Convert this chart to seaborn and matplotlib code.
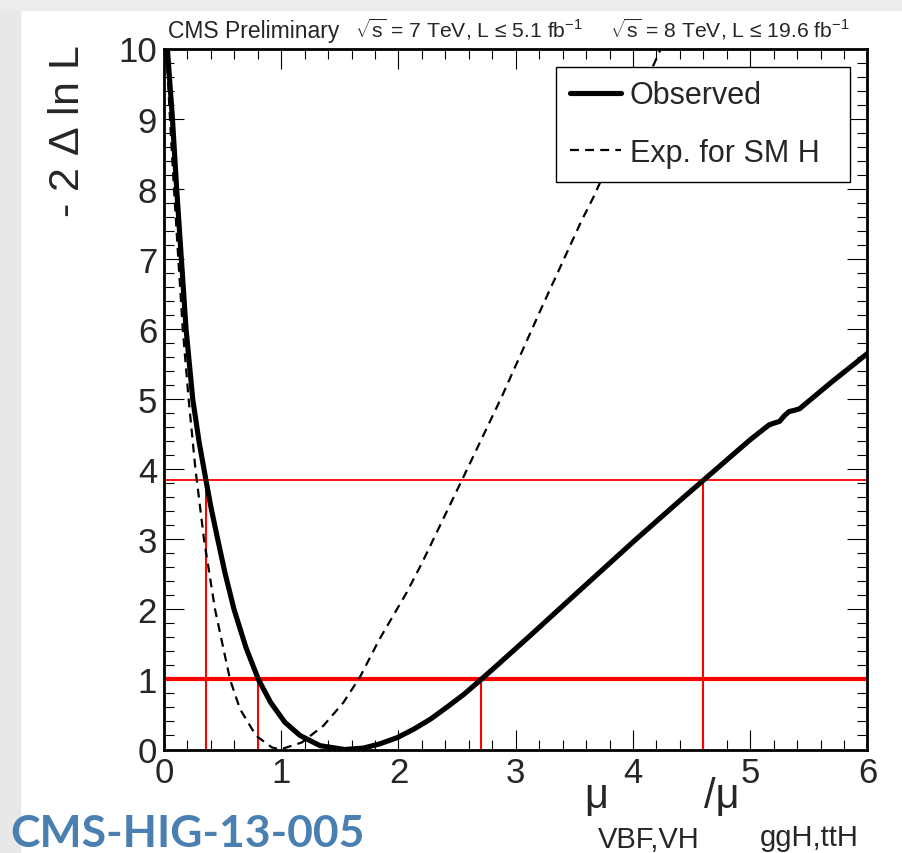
import numpy as np
import pandas as pd
import matplotlib
matplotlib.use("Agg")
import matplotlib.pyplot as plt
from matplotlib.patches import Rectangle
from matplotlib.ticker import MultipleLocator
import seaborn as sns

# likelihood scan values
obs_mu = [0.0, 0.03, 0.072, 0.108, 0.148, 0.188, 0.245, 0.30, 0.358, 0.40, 0.458,
          0.52, 0.597, 0.70, 0.805, 0.91, 1.03, 1.16, 1.33, 1.54, 1.70, 1.84,
          1.99, 2.13, 2.27, 2.41, 2.56, 2.705, 2.84, 2.98, 3.12, 3.50, 4.00,
          4.42, 4.60, 5.00, 5.16, 5.21, 5.25, 5.29, 5.33, 5.38, 5.42, 5.70, 6.00]
obs_nll = [10.65, 9.97, 9.0, 8.0, 7.0, 6.0, 5.0, 4.38, 3.84, 3.46, 3.0,
           2.52, 2.0, 1.45, 1.0, 0.67, 0.39, 0.20, 0.055, 0.0, 0.02, 0.08,
           0.17, 0.29, 0.43, 0.60, 0.79, 1.0, 1.20, 1.41, 1.62, 2.20, 2.96,
           3.58, 3.84, 4.42, 4.63, 4.66, 4.68, 4.76, 4.82, 4.84, 4.86, 5.25, 5.65]

exp_mu = [0.0, 0.02, 0.051, 0.085, 0.122, 0.16, 0.21, 0.268, 0.28, 0.341, 0.435,
          0.563, 0.648, 0.785, 0.92, 0.99, 1.175, 1.36, 1.53, 1.67, 1.84, 2.07,
          2.20, 2.54, 2.88, 3.22, 3.56, 3.66, 4.22, 4.25]
exp_nll = [10.6, 10.0, 9.0, 8.0, 7.0, 6.0, 5.0, 4.0, 3.84, 3.0, 2.0,
           1.0, 0.578, 0.197, 0.03, 0.0, 0.10, 0.34, 0.67, 1.03, 1.58, 2.24,
           2.66, 3.84, 5.03, 6.3, 7.54, 7.87, 9.93, 10.05]

# 68% / 95% CL levels and where the observed curve crosses them
cl_levels = [1.0, 3.84]
cl68_edges = [0.805, 2.705]
cl95_edges = [0.355, 4.60]

df_obs = pd.DataFrame({"mu": obs_mu, "nll": obs_nll})
df_exp = pd.DataFrame({"mu": exp_mu, "nll": exp_nll})

sns.set_theme(style="ticks")
plt.rcParams["font.family"] = ["Liberation Sans", "DejaVu Sans"]
plt.rcParams["mathtext.fontset"] = "custom"
plt.rcParams["mathtext.rm"] = "Liberation Sans"
plt.rcParams["mathtext.it"] = "Liberation Sans:italic"
plt.rcParams["mathtext.sf"] = "Liberation Sans"

fig = plt.figure(figsize=(9.03, 8.54), dpi=100)

# grey slide edges of the screenshot
fig.patches.append(Rectangle((0, 0), 20 / 903, 1, transform=fig.transFigure,
                             color="#e8e8e8", zorder=0))
fig.patches.append(Rectangle((0, 1 - 11 / 854), 1, 11 / 854, transform=fig.transFigure,
                             color="#ececec", zorder=0))

ax = fig.add_axes([164 / 903, 1 - 750.5 / 854, 703.5 / 903, 701 / 854])

# red CL lines
ax.axhline(cl_levels[0], color="red", lw=3, zorder=1)
ax.axhline(cl_levels[1], color="red", lw=1.3, zorder=1)
ax.vlines(cl68_edges, 0, cl_levels[0], color="red", lw=1.5, zorder=1)
ax.vlines(cl95_edges, 0, cl_levels[1], color="red", lw=1.5, zorder=1)

sns.lineplot(data=df_obs, x="mu", y="nll", ax=ax, color="black", lw=3.7,
             estimator=None, label="Observed", zorder=3)
sns.lineplot(data=df_exp, x="mu", y="nll", ax=ax, color="black", lw=1.6,
             estimator=None, label="Exp. for SM H", zorder=3,
             linestyle=(0, (4, 2.8)))

ax.set_xlim(0, 6)
ax.set_ylim(0, 10)
ax.set_xlabel("")
ax.set_ylabel("")
ax.xaxis.set_major_locator(MultipleLocator(1))
ax.xaxis.set_minor_locator(MultipleLocator(0.2))
ax.yaxis.set_major_locator(MultipleLocator(1))
ax.yaxis.set_minor_locator(MultipleLocator(0.2))
ax.tick_params(which="both", direction="in", top=True, right=True,
               color="black", width=0.8, labelsize=25, pad=5)
ax.tick_params(which="major", length=14.5)
ax.tick_params(which="minor", length=7)
for sp in ax.spines.values():
    sp.set_linewidth(2)
    sp.set_color("black")

leg = ax.legend(loc="upper left", bbox_to_anchor=(0.557, 0.791, 0.418, 0.183),
                mode="expand", borderaxespad=0, fontsize=22, frameon=True,
                fancybox=False, framealpha=1, edgecolor="black",
                labelspacing=0.9, borderpad=0.45, handlelength=1.67,
                handletextpad=0.3)
leg.get_frame().set_linewidth(1)
leg.set_zorder(5)

# header line
fig.text(168 / 903, 1 - 38 / 854, "CMS Preliminary", fontsize=16.5,
         ha="left", va="baseline")
fig.text(355 / 903, 1 - 38 / 854, r"$\sqrt{\mathrm{s}}$ = 7 TeV, L ≤ 5.1 fb$^{-1}$",
         fontsize=15.2, ha="left", va="baseline")
fig.text(610 / 903, 1 - 38 / 854, r"$\sqrt{\mathrm{s}}$ = 8 TeV, L ≤ 19.6 fb$^{-1}$",
         fontsize=15.2, ha="left", va="baseline")

fig.text(68 / 903, 1 - 45 / 854, r"- 2 $\Delta$ ln L", fontsize=31,
         rotation=90, ha="center", va="top")

# x axis title, built ROOT-style with large subscripts
fig.text(584 / 903, 1 - 808 / 854, "μ", fontsize=30, ha="left", va="baseline")
fig.text(598 / 903, 1 - 848 / 854, "VBF,VH", fontsize=21, ha="left", va="baseline")
fig.text(704 / 903, 1 - 808 / 854, "/μ", fontsize=30, ha="left", va="baseline")
fig.text(760 / 903, 1 - 846 / 854, "ggH,ttH", fontsize=21, ha="left", va="baseline")

fig.text(10 / 903, 1 - 847 / 854, "CMS-HIG-13-005", fontsize=32, fontweight="bold",
         color="#4a7fb1", family=["Lato", "DejaVu Sans"], ha="left", va="baseline")

fig.savefig("out.png", dpi=100)
